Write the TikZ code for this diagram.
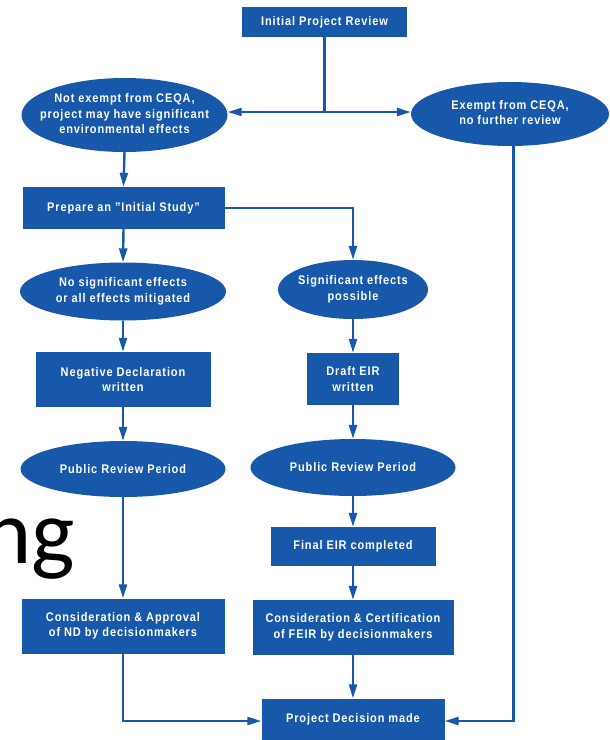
\documentclass[tikz,border=0pt]{standalone}
\usepackage{fontspec}
\setmainfont{Liberation Sans}[FakeStretch=0.88,LetterSpace=7]
\newfontfamily\slidefont{Carlito}
\usetikzlibrary{shapes.geometric,arrows.meta}
\definecolor{ceqa}{RGB}{24,88,170}
\newcommand\zw[1]{\makebox[0pt]{\begin{tabular}{@{}c@{}}#1\end{tabular}}}
\begin{document}
\begin{tikzpicture}[x=1pt,y=-1pt,
  lbl/.style={fill=ceqa,text=white,inner sep=0pt,align=center,
    font=\fontsize{12.5}{15.5}\selectfont\bfseries},
  box/.style={lbl,rectangle},
  oval/.style={lbl,ellipse},
  conn/.style={draw=ceqa,line width=2.4pt},
  arr/.style={conn,-{Triangle[length=14pt,width=8pt]}}]
\useasboundingbox (0,0) rectangle (610,740);
\node[anchor=base west,inner sep=0pt,font=\slidefont\fontsize{92}{92}\selectfont] (ng) at (-17,563) {ng};
\node[box,minimum width=165,minimum height=30] (ipr) at (324.5,22) {Initial Project Review};
\node[oval,minimum width=206,minimum height=74] (nex) at (124.5,115) {\zw{Not exempt from CEQA,\\project may have significant\\environmental effects}};
\node[oval,minimum width=198,minimum height=64] (ex) at (510,114) {\zw{Exempt from CEQA,\\no further review}};
\node[box,minimum width=202,minimum height=42] (pis) at (123.5,208) {Prepare an "Initial Study"};
\node[oval,minimum width=206,minimum height=58] (nse) at (123,291.5) {\zw{No significant effects\\or all effects mitigated}};
\node[oval,minimum width=150,minimum height=59] (sep) at (353,289.5) {\zw{Significant effects\\possible}};
\node[box,minimum width=175,minimum height=55] (nd) at (123,379.5) {Negative Declaration\\written};
\node[box,minimum width=92,minimum height=52] (deir) at (353,379) {Draft EIR\\written};
\node[oval,minimum width=205,minimum height=56] (prl) at (123,469) {Public Review Period};
\node[oval,minimum width=205,minimum height=57] (prr) at (353,467.5) {Public Review Period};
\node[box,minimum width=165,minimum height=39] (feir) at (353,546.5) {Final EIR completed};
\node[box,minimum width=203,minimum height=55] (cap) at (123,626) {Consideration \& Approval\\of ND by decisionmakers};
\node[box,minimum width=201,minimum height=55] (ccf) at (353,627.5) {Consideration \& Certification\\of FEIR by decisionmakers};
\node[box,minimum width=183,minimum height=42] (pdm) at (353,719.5) {Project Decision made};
\coordinate (jn) at (324.5,112);
\coordinate (rc) at (513.5,721);
\coordinate (lc) at (123,721);
\coordinate (sc) at (353,208);
\draw[conn] (ipr.south) -- (jn);
\draw[arr] (jn) -- (jn -| nex.east);
\draw[arr] (jn) -- (jn -| ex.west);
\draw[arr] (nex.south) -- (pis.north);
\draw[arr] (pis.east) -- (sc) -- (sep.north);
\draw[arr] (pis.south) -- (nse.north);
\draw[arr] (nse.south) -- (nd.north);
\draw[arr] (sep.south) -- (deir.north);
\draw[arr] (nd.south) -- (prl.north);
\draw[arr] (deir.south) -- (prr.north);
\draw[arr] (prl.south) -- (cap.north);
\draw[arr] (prr.south) -- (feir.north);
\draw[arr] (feir.south) -- (ccf.north);
\draw[arr] (ccf.south) -- (pdm.north);
\draw[arr] (cap.south) -- (lc) -- (lc -| pdm.west);
\draw[arr] (ex.south -| rc) -- (rc) -- (rc -| pdm.east);
\end{tikzpicture}
\end{document}
